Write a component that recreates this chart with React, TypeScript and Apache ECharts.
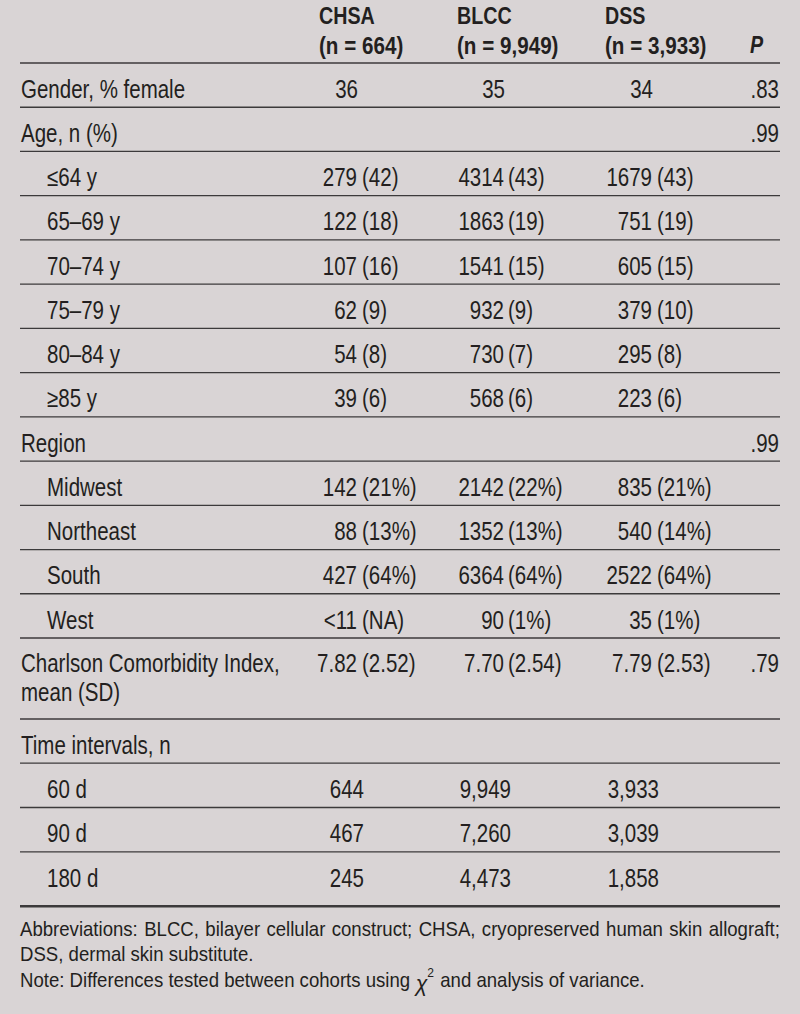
import React, { useEffect, useRef } from "react";
import * as echarts from "echarts";

// ---------- data ----------
const columnHeads = ["CHSA", "BLCC", "DSS"];
const columnNs = ["(n = 664)", "(n = 9,949)", "(n = 3,933)"];
const pHead = "P";

const rowLabels = [
  "Gender, % female",
  "Age, n (%)",
  "≤64 y",
  "65–69 y",
  "70–74 y",
  "75–79 y",
  "80–84 y",
  "≥85 y",
  "Region",
  "Midwest",
  "Northeast",
  "South",
  "West",
  "Charlson Comorbidity Index,\nmean (SD)",
  "Time intervals, n",
  "60 d",
  "90 d",
  "180 d",
];
const rowIndent = [0, 0, 1, 1, 1, 1, 1, 1, 0, 1, 1, 1, 1, 0, 0, 1, 1, 1];

const chsaValues = ["36", "", "279 (42)", "122 (18)", "107 (16)", "62 (9)", "54 (8)", "39 (6)", "", "142 (21%)", "88 (13%)", "427 (64%)", "<11 (NA)", "7.82 (2.52)", "", "644", "467", "245"];
const blccValues = ["35", "", "4314 (43)", "1863 (19)", "1541 (15)", "932 (9)", "730 (7)", "568 (6)", "", "2142 (22%)", "1352 (13%)", "6364 (64%)", "90 (1%)", "7.70 (2.54)", "", "9,949", "7,260", "4,473"];
const dssValues = ["34", "", "1679 (43)", "751 (19)", "605 (15)", "379 (10)", "295 (8)", "223 (6)", "", "835 (21%)", "540 (14%)", "2522 (64%)", "35 (1%)", "7.79 (2.53)", "", "3,933", "3,039", "1,858"];
const pValues = [".83", ".99", "", "", "", "", "", "", ".99", "", "", "", "", ".79", "", "", "", ""];

const footLine1 = "Abbreviations: BLCC, bilayer cellular construct; CHSA, cryopreserved human skin allograft;";
const footLine2 = "DSS, dermal skin substitute.";
const footNoteBefore = "Note: Differences tested between cohorts using ";
const footChi = "χ";
const footSup = "2";
const footNoteAfter = " and analysis of variance.";

// ---------- layout ----------
const W = 800;
const H = 1014;
const LEFT = 20;
const RIGHT = 780;
const FAMILY = "Liberation Sans";
const FONT = '"Liberation Sans", Arial, sans-serif';
const TEXT = "#231f20";
const RULE = "#3c3a3b";
const BG = "#d9d4d5";
const BODY = 25;
const HEAD = 24;
const FOOT = 20;
const SX = 0.82;
const FSX = 0.93;
const HEADER_LINE = 63;
const numRight = [357, 504, 652];
const parenLeft = [362, 508, 657];
const headLeft = [319, 457, 605];

let ctx: CanvasRenderingContext2D | null = null;
function measure(t: string, size: number, weight = "normal", style = "normal") {
  if (!ctx) ctx = document.createElement("canvas").getContext("2d");
  if (!ctx) return t.length * size * 0.5;
  const st = style === "italic" ? "italic " : "";
  const wt = weight === "bold" ? "bold " : "";
  ctx.font = `${st}${wt}${size}px "${FAMILY}"`;
  return ctx.measureText(t).width;
}

function txt(text: string, x: number, y: number, opts: any = {}) {
  const align = opts.align || "left";
  return {
    type: "text",
    x,
    y,
    scaleX: opts.sx || SX,
    silent: true,
    style: {
      text,
      fill: TEXT,
      fontSize: opts.size || BODY,
      fontFamily: FONT,
      fontWeight: opts.weight || "normal",
      fontStyle: opts.style || "normal",
      align,
      textAlign: align,
      verticalAlign: "middle",
      textVerticalAlign: "middle",
    },
  };
}

function rule(y: number, w = 1.3) {
  return {
    type: "line",
    silent: true,
    shape: { x1: LEFT, y1: y, x2: RIGHT, y2: y },
    style: { stroke: RULE, lineWidth: w },
  };
}

function buildElements() {
  const els: any[] = [];
  // header
  columnHeads.forEach((h, c) => {
    els.push(txt(h, headLeft[c], 16, { weight: "bold", size: HEAD }));
    els.push(txt(columnNs[c], headLeft[c], 46, { weight: "bold", size: HEAD, sx: 0.86 }));
  });
  els.push(txt(pHead, 750, 45, { weight: "bold", style: "italic", size: HEAD }));
  els.push(rule(HEADER_LINE));

  const cols = [chsaValues, blccValues, dssValues];
  const timeStart = rowLabels.indexOf("Time intervals, n");
  let top = HEADER_LINE;
  rowLabels.forEach((label, i) => {
    const multi = label.includes("\n");
    const h = multi ? 81 : i === rowLabels.length - 1 ? 54.5 : i > timeStart ? 44.3 : 44.23;
    const lx = LEFT + 1 + rowIndent[i] * 26;
    const cy = top + 26;
    if (multi) {
      label.split("\n").forEach((ln, k) => els.push(txt(ln, lx, top + 25 + k * 29)));
    } else {
      els.push(txt(label, lx, cy));
    }
    const vy = multi ? top + 25 : cy;
    cols.forEach((vals, c) => {
      const v = vals[i];
      if (!v) return;
      const idx = v.indexOf(" (");
      if (idx >= 0) {
        els.push(txt(v.slice(0, idx), numRight[c], vy, { align: "right" }));
        els.push(txt(v.slice(idx + 1), parenLeft[c], vy));
      } else {
        const shift = i > timeStart ? 7 : 1;
        els.push(txt(v, numRight[c] + shift, vy, { align: "right" }));
      }
    });
    if (pValues[i]) els.push(txt(pValues[i], 779, vy, { align: "right" }));
    top += h;
    els.push(rule(top, i === rowLabels.length - 1 ? 2.4 : 1.3));
  });

  // footnote line 1, justified
  const words = footLine1.split(" ");
  const widths = words.map((w) => measure(w, FOOT) * FSX);
  const total = widths.reduce((a, b) => a + b, 0);
  const gap = Math.max(4, (RIGHT - LEFT - total) / (words.length - 1));
  let x = LEFT;
  words.forEach((w, k) => {
    els.push(txt(w, x, 929, { size: FOOT, sx: FSX }));
    x += widths[k] + gap;
  });
  els.push(txt(footLine2, LEFT, 954, { size: FOOT, sx: FSX }));
  const y3 = 980;
  els.push(txt(footNoteBefore, LEFT, y3, { size: FOOT, sx: FSX }));
  let x3 = LEFT + measure(footNoteBefore, FOOT) * FSX;
  els.push(txt(footChi, x3, y3 + 3, { size: FOOT + 3, style: "italic", sx: FSX }));
  x3 += measure(footChi, FOOT + 3, "normal", "italic") * FSX;
  els.push(txt(footSup, x3, y3 - 7, { size: 13, sx: FSX }));
  x3 += measure(footSup, 13) * FSX + 1;
  els.push(txt(footNoteAfter, x3, y3, { size: FOOT, sx: FSX }));
  return els;
}

export default function App() {
  const ref = useRef<HTMLDivElement>(null);
  useEffect(() => {
    if (!ref.current) return;
    const chart = echarts.init(ref.current, null, { renderer: "svg" });
    chart.setOption({
      animation: false,
      backgroundColor: BG,
      graphic: { elements: buildElements() },
    });
    return () => chart.dispose();
  }, []);
  return (
    <div
      ref={ref}
      style={{ position: "fixed", left: 0, top: 0, width: W, height: H, background: BG }}
    />
  );
}
